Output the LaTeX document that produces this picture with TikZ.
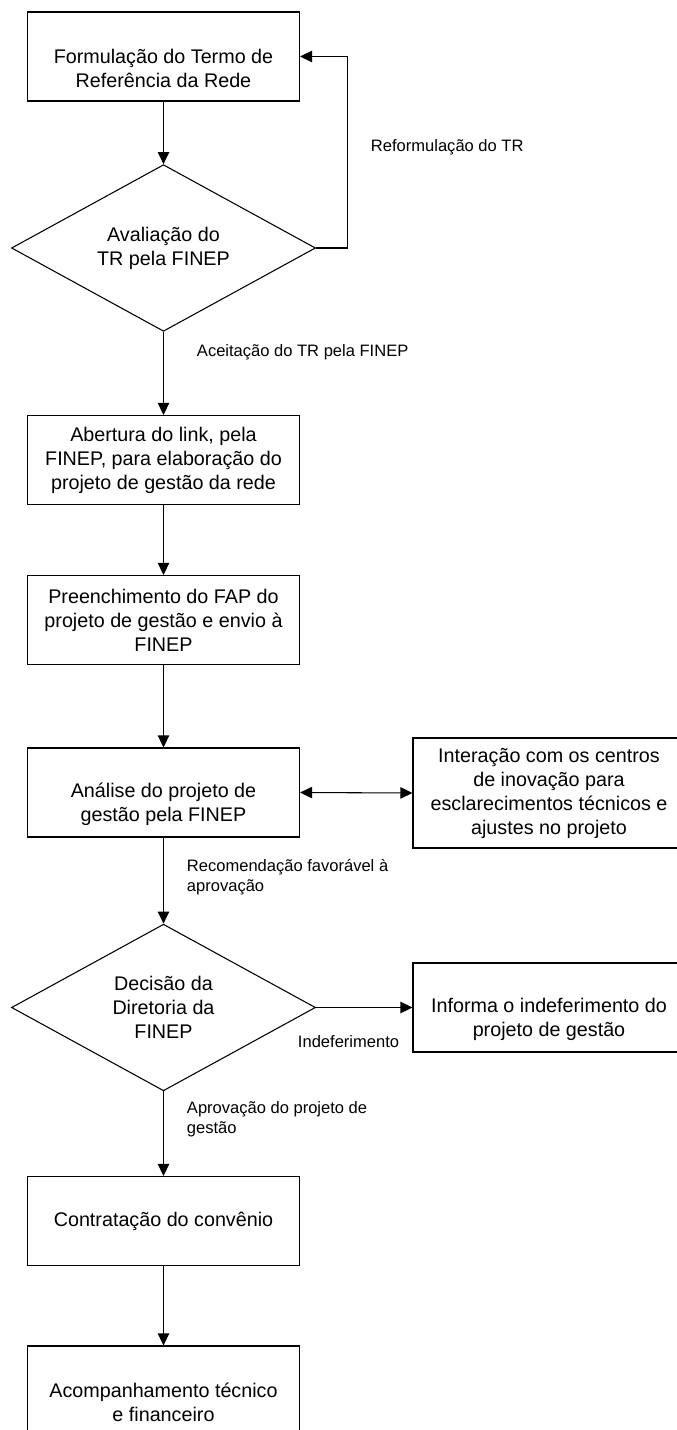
\documentclass[tikz,border=0pt]{standalone}
\usepackage{fontspec}
\setmainfont{Liberation Sans}
\usetikzlibrary{shapes.geometric,arrows.meta}

\begin{document}
\begin{tikzpicture}[x=0.75pt,y=-0.75pt,
  font=\fontsize{14.8}{18}\selectfont,
  line width=0.8pt,
  caixa/.style={draw,minimum width=204pt,minimum height=66.75pt,inner sep=0pt,align=center},
  losango/.style={draw,diamond,aspect=1.82,minimum width=228pt,minimum height=125pt,inner sep=0pt,align=center},
  baixo/.style={label={[align=center,yshift=-9pt]center:#1}},
  rotulo/.style={anchor=west,align=left,font=\fontsize{12.4}{15}\selectfont},
  seta/.style={-{Triangle[length=9pt,width=8.5pt]}}]
  \useasboundingbox (0,0) rectangle (676,1430);

  \node[caixa,baixo={Formulação do Termo de\\Referência da Rede}] (formul) at (163.5,56.5) {};
  \node[losango] (aval) at (163.5,248) {Avaliação do\\TR pela FINEP};
  \node[caixa] (abert) at (163.5,460) {Abertura do link, pela\\FINEP, para elaboração do\\projeto de gestão da rede};
  \node[caixa] (preench) at (163.5,620) {Preenchimento do FAP do\\projeto de gestão e envio à\\FINEP};
  \node[caixa,baixo={Análise do projeto de\\gestão pela FINEP}] (anal) at (163.5,792.5) {};
  \node[caixa,minimum height=82.5pt] (inter) at (549,793) {Interação com os centros\\de inovação para\\esclarecimentos técnicos e\\ajustes no projeto};
  \node[losango] (decis) at (163.5,1007.5) {Decisão da\\Diretoria da\\FINEP};
  \node[caixa,baixo={Informa o indeferimento do\\projeto de gestão}] (inform) at (549,1007.5) {};
  \node[caixa] (contr) at (163.5,1221) {Contratação do convênio};
  \node[caixa,baixo={Acompanhamento técnico\\e financeiro}] (acomp) at (163.5,1390.5) {};

  \node[rotulo] (reform) at (366,147) {Reformulação do TR};
  \node[rotulo] (aceit) at (192,352) {Aceitação do TR pela FINEP};
  \node[rotulo] (recom) at (182,877) {Recomendação favorável à\\aprovação};
  \node[rotulo] (indef) at (293,1042) {Indeferimento};
  \node[rotulo] (aprov) at (182,1119.5) {Aprovação do projeto de\\gestão};

  \draw[seta] (formul.south) -- (aval.north);
  \draw[seta] (aval.east) -- ++(31,0) |- (formul.east);
  \draw[seta] (aval.south) -- (abert.north);
  \draw[seta] (abert.south) -- (preench.north);
  \draw[seta] (preench.south) -- (anal.north);
  \draw[{Triangle[length=9pt,width=8.5pt]}-{Triangle[length=9pt,width=8.5pt]}] (anal.east) -- (inter.west);
  \draw[seta] (anal.south) -- (decis.north);
  \draw[seta] (decis.east) -- (inform.west);
  \draw[seta] (decis.south) -- (contr.north);
  \draw[seta] (contr.south) -- (acomp.north);
\end{tikzpicture}
\end{document}
